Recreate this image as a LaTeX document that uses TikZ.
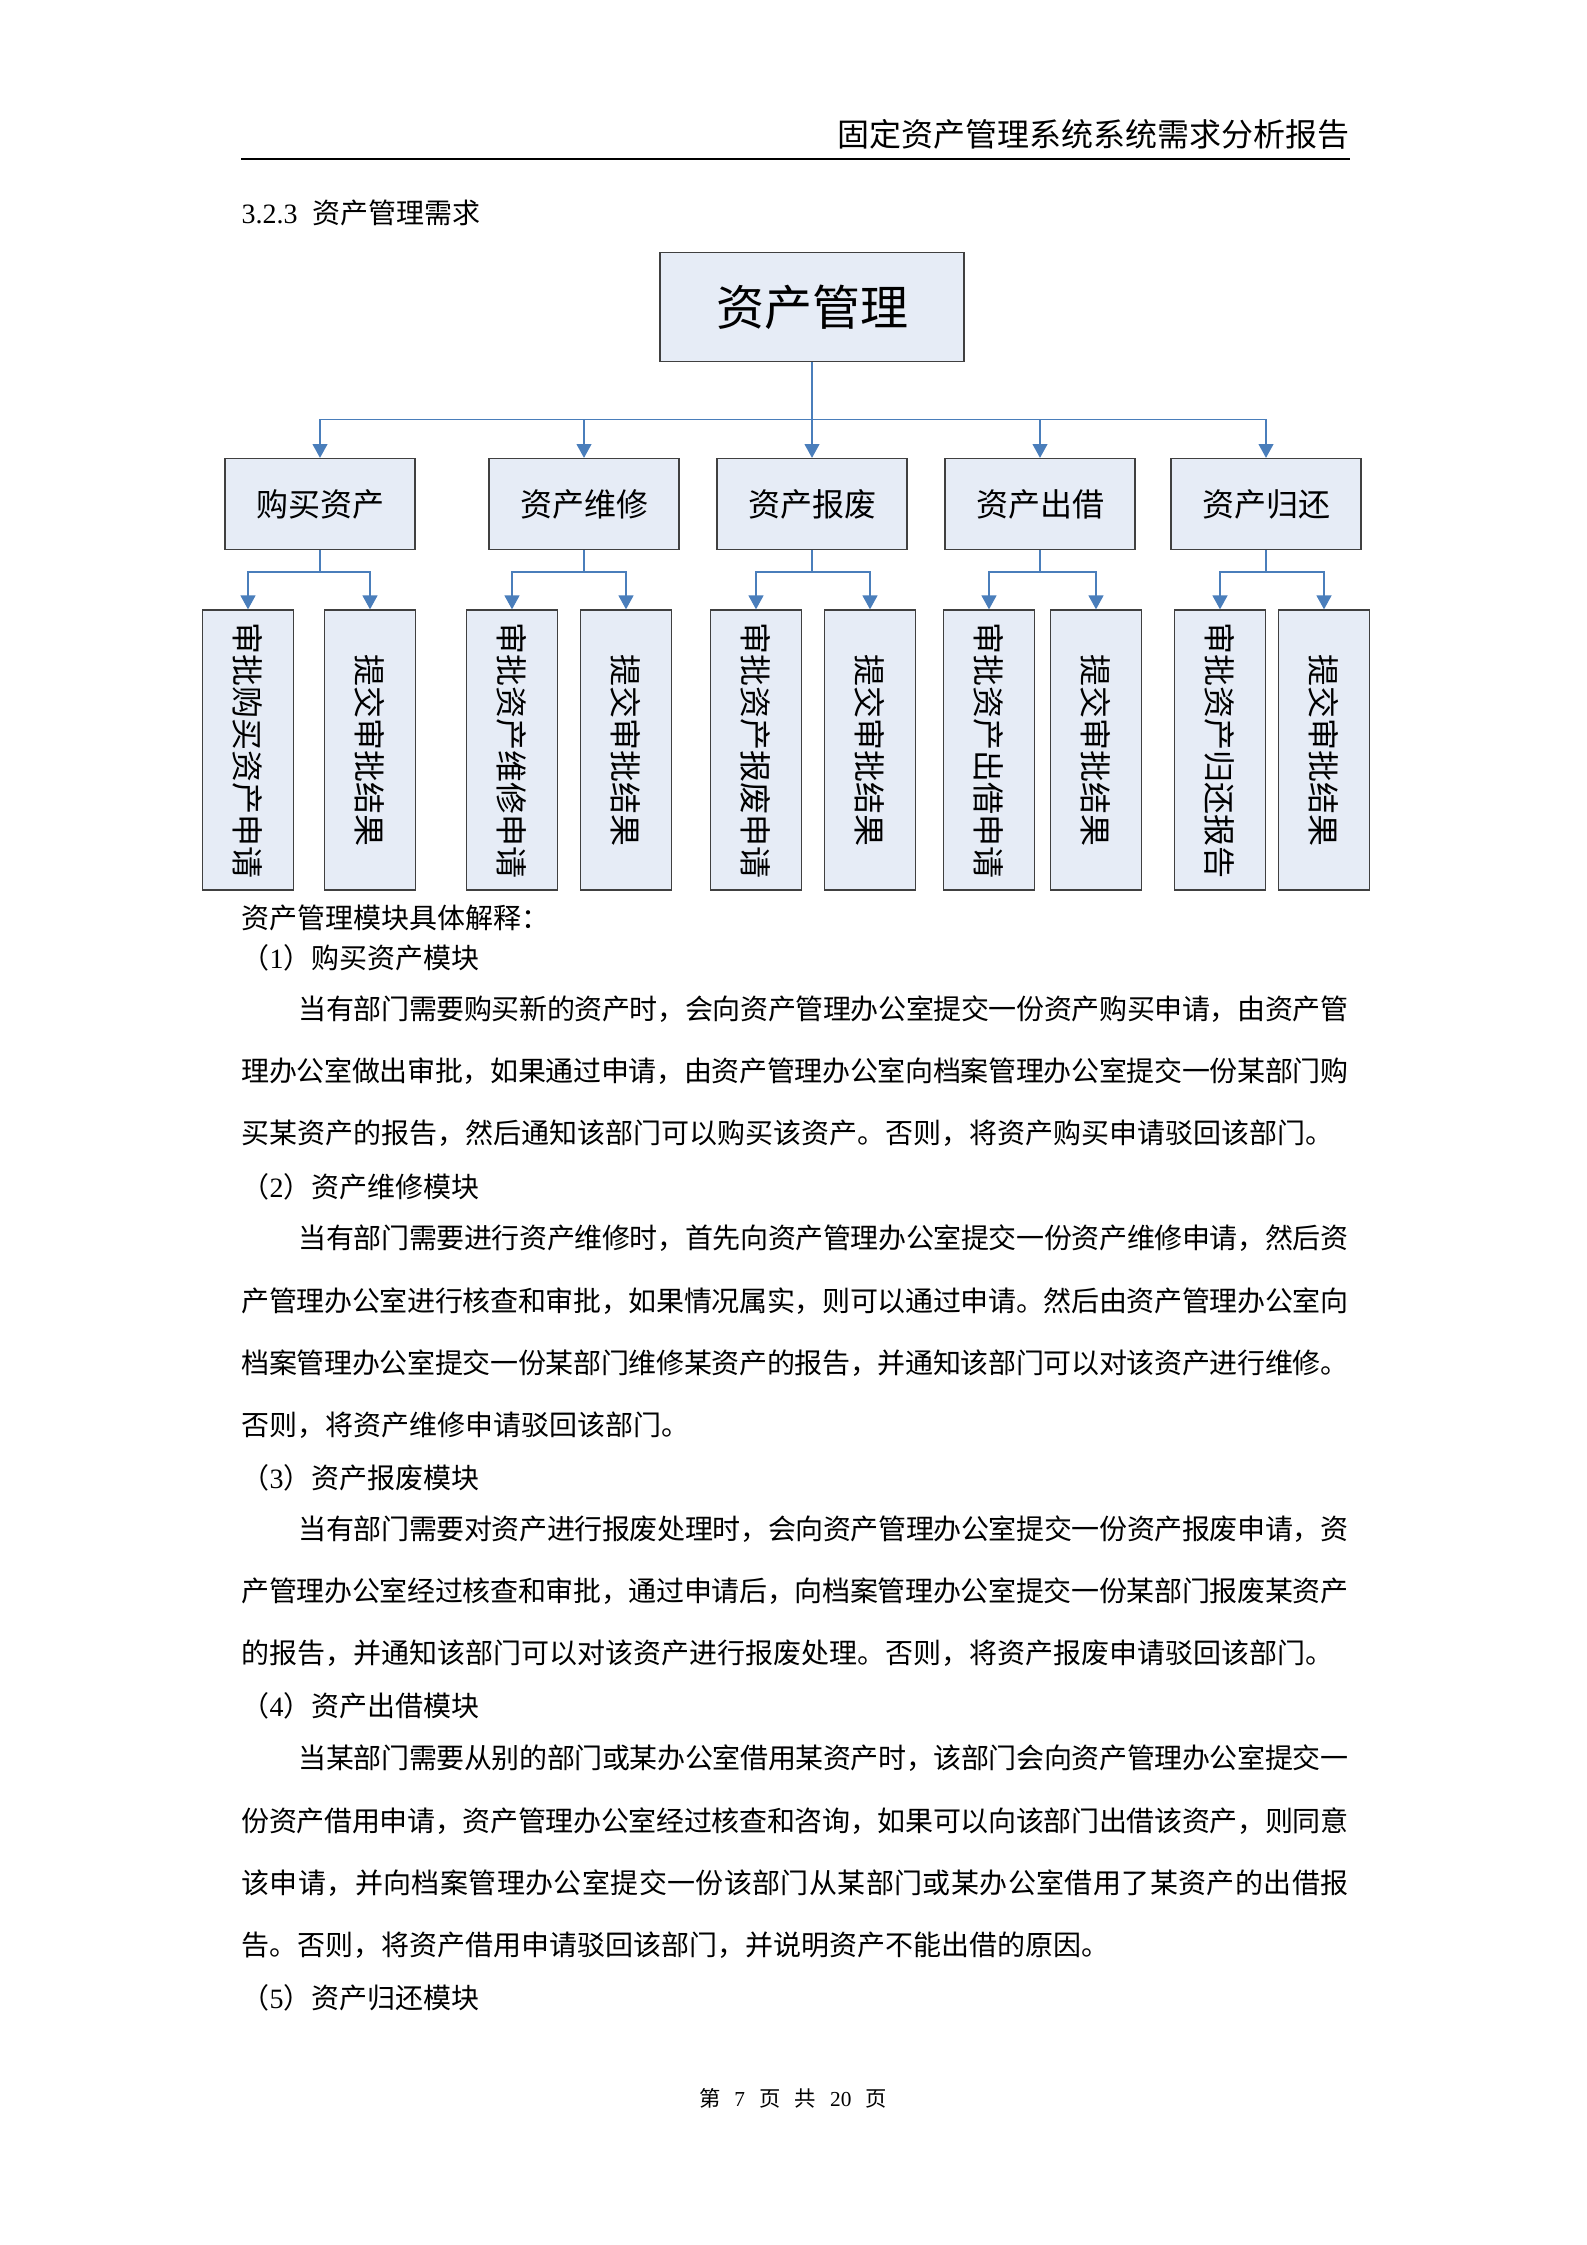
\documentclass[tikz,border=0pt]{standalone}
\usepackage{fontspec}
\usepackage{xcolor}
\usepackage{tikz}
\usetikzlibrary{arrows.meta}
\setmainfont{Liberation Serif}
\newfontfamily\cjk{Noto Sans CJK SC}
\definecolor{linkblue}{HTML}{4A7EBB}
\definecolor{boxfill}{HTML}{E6ECF6}
\definecolor{boxdraw}{HTML}{404040}

% spread one line of CJK text over a fixed width
\makeatletter
\def\spreadline#1#2{\hbox to #1{\spr@first#2\relax}}
\def\spr@first#1{#1\spr@rest}
\def\spr@rest#1{\ifx\relax#1\else\hss#1\expandafter\spr@rest\fi}
\makeatother
\newcommand\fullline[1]{\spreadline{415.1pt}{#1}}
\newcommand\firstline[1]{\spreadline{393.7pt}{#1}}

\begin{document}
\begin{tikzpicture}[
            x=0.375pt, y=-0.375pt,
            root/.style={rectangle, draw=boxdraw, fill=boxfill, line width=0.5pt, minimum width=114pt, minimum height=40.9pt, inner sep=0pt, font=\cjk\fontsize{18}{18}\selectfont},
            module/.style={rectangle, draw=boxdraw, fill=boxfill, line width=0.5pt, minimum width=71.25pt, minimum height=34.1pt, inner sep=0pt, font=\cjk\fontsize{12}{12}\selectfont},
            leaf/.style={rectangle, draw=boxdraw, fill=boxfill, line width=0.5pt, rotate=-90, minimum width=105pt, minimum height=34.1pt, inner sep=0pt, font=\cjk\fontsize{12}{12}\selectfont},
            arrow/.style={draw=linkblue, line width=0.5pt, -{Triangle[length=5.2pt,width=5.6pt]}},
            bodytext/.style={anchor=base west, inner sep=0pt, font=\cjk\fontsize{10.5}{12}\selectfont}
        ]
        \fill[white] (0,0) rectangle (1587,2245);
        \useasboundingbox (0,0) rectangle (1587,2245);
        
        % Page header
        \node[anchor=base east, inner sep=0pt, font=\cjk\fontsize{12}{12}\selectfont] (header) at (1350,146) {固定资产管理系统系统需求分析报告};
        \draw[line width=0.9pt] (241,159) -- (1350,159);
        \node[bodytext] (title) at (241,223) {{\rmfamily 3.2.3}\hspace{5.5pt}资产管理需求};
        
        % Root
        \node[root] (mgmt) at (812,307) {资产管理};
        
        % Modules
        \node[module] (buy) at (320,504) {购买资产};
        \node[module] (repair) at (584,504) {资产维修};
        \node[module] (scrap) at (812,504) {资产报废};
        \node[module] (lend) at (1040,504) {资产出借};
        \node[module] (return) at (1266,504) {资产归还};
        
        % Leaves
        \node[leaf] (buyapp) at (248,750) {审批购买资产申请};
        \node[leaf] (buyres) at (370,750) {提交审批结果};
        \node[leaf] (repairapp) at (512,750) {审批资产维修申请};
        \node[leaf] (repairres) at (626,750) {提交审批结果};
        \node[leaf] (scrapapp) at (756,750) {审批资产报废申请};
        \node[leaf] (scrapres) at (870,750) {提交审批结果};
        \node[leaf] (lendapp) at (989,750) {审批资产出借申请};
        \node[leaf] (lendres) at (1096,750) {提交审批结果};
        \node[leaf] (returnapp) at (1220,750) {审批资产归还报告};
        \node[leaf] (returnres) at (1324,750) {提交审批结果};
        
        % Arrows
        \draw[arrow] (mgmt.south) -- ++(0,57) -| (buy.north);
        \draw[arrow] (mgmt.south) -- ++(0,57) -| (repair.north);
        \draw[arrow] (mgmt.south) -- (scrap.north);
        \draw[arrow] (mgmt.south) -- ++(0,57) -| (lend.north);
        \draw[arrow] (mgmt.south) -- ++(0,57) -| (return.north);
        \draw[arrow] (buy.south) -- ++(0,22) -| (buyapp.west);
        \draw[arrow] (buy.south) -- ++(0,22) -| (buyres.west);
        \draw[arrow] (repair.south) -- ++(0,22) -| (repairapp.west);
        \draw[arrow] (repair.south) -- ++(0,22) -| (repairres.west);
        \draw[arrow] (scrap.south) -- ++(0,22) -| (scrapapp.west);
        \draw[arrow] (scrap.south) -- ++(0,22) -| (scrapres.west);
        \draw[arrow] (lend.south) -- ++(0,22) -| (lendapp.west);
        \draw[arrow] (lend.south) -- ++(0,22) -| (lendres.west);
        \draw[arrow] (return.south) -- ++(0,22) -| (returnapp.west);
        \draw[arrow] (return.south) -- ++(0,22) -| (returnres.west);
        
        % Explanation
        \node[bodytext] (intro) at (241,928) {资产管理模块具体解释：};
        \node[bodytext] (buyhead) at (241,968) {（{\rmfamily 1}）购买资产模块};
        \node[bodytext] (buyl1) at (298,1019) {\firstline{当有部门需要购买新的资产时，会向资产管理办公室提交一份资产购买申请，由资产管}};
        \node[bodytext] (buyl2) at (241,1081) {\fullline{理办公室做出审批，如果通过申请，由资产管理办公室向档案管理办公室提交一份某部门购}};
        \node[bodytext] (buyl3) at (241,1143) {买某资产的报告，然后通知该部门可以购买该资产。否则，将资产购买申请驳回该部门。};
        
        \node[bodytext] (repairhead) at (241,1197) {（{\rmfamily 2}）资产维修模块};
        \node[bodytext] (repairl1) at (298,1248) {\firstline{当有部门需要进行资产维修时，首先向资产管理办公室提交一份资产维修申请，然后资}};
        \node[bodytext] (repairl2) at (241,1311) {\fullline{产管理办公室进行核查和审批，如果情况属实，则可以通过申请。然后由资产管理办公室向}};
        \node[bodytext] (repairl3) at (241,1373) {\fullline{档案管理办公室提交一份某部门维修某资产的报告，并通知该部门可以对该资产进行维修。}};
        \node[bodytext] (repairl4) at (241,1435) {否则，将资产维修申请驳回该部门。};
        
        \node[bodytext] (scraphead) at (241,1488) {（{\rmfamily 3}）资产报废模块};
        \node[bodytext] (scrapl1) at (298,1539) {\firstline{当有部门需要对资产进行报废处理时，会向资产管理办公室提交一份资产报废申请，资}};
        \node[bodytext] (scrapl2) at (241,1601) {\fullline{产管理办公室经过核查和审批，通过申请后，向档案管理办公室提交一份某部门报废某资产}};
        \node[bodytext] (scrapl3) at (241,1663) {的报告，并通知该部门可以对该资产进行报废处理。否则，将资产报废申请驳回该部门。};
        
        \node[bodytext] (lendhead) at (241,1716) {（{\rmfamily 4}）资产出借模块};
        \node[bodytext] (lendl1) at (298,1768) {\firstline{当某部门需要从别的部门或某办公室借用某资产时，该部门会向资产管理办公室提交一}};
        \node[bodytext] (lendl2) at (241,1831) {\fullline{份资产借用申请，资产管理办公室经过核查和咨询，如果可以向该部门出借该资产，则同意}};
        \node[bodytext] (lendl3) at (241,1893) {\fullline{该申请，并向档案管理办公室提交一份该部门从某部门或某办公室借用了某资产的出借报}};
        \node[bodytext] (lendl4) at (241,1955) {告。否则，将资产借用申请驳回该部门，并说明资产不能出借的原因。};
        
        \node[bodytext] (returnhead) at (241,2008) {（{\rmfamily 5}）资产归还模块};
        
        % Page footer
        \node[anchor=base, inner sep=0pt, font=\cjk\fontsize{8}{8}\selectfont] (footer) at (793,2106) {第\hspace{5.3pt}{\rmfamily 7}\hspace{5.3pt}页\hspace{5.3pt}共\hspace{5.3pt}{\rmfamily 20}\hspace{5.3pt}页};
        
        \end{tikzpicture}
\end{document}
